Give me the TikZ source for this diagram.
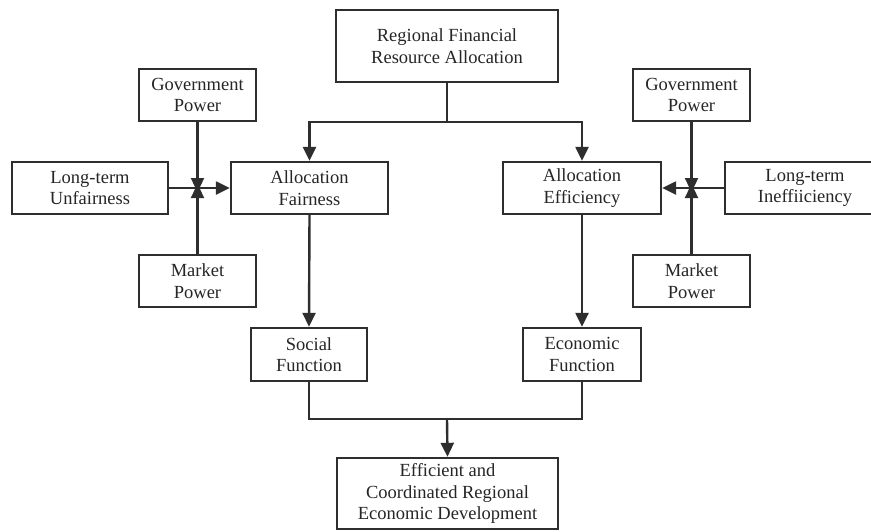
\documentclass[tikz,border=0pt]{standalone}
\usepackage{fontspec}
\setmainfont{Liberation Serif}
\usetikzlibrary{arrows.meta}
\begin{document}
\begin{tikzpicture}[x=1pt,y=-1pt,
  box/.style={draw=black!82, line width=2.4pt, fill=white, align=center, inner sep=0pt,
    font=\fontsize{18.5}{21.5}\selectfont, text=black!85},
  conn/.style={draw=black!82, line width=2.4pt},
  arr/.style={conn, -{Triangle[length=14pt,width=13pt]}}]
\useasboundingbox (0,0) rectangle (871,531);
\node[box, minimum width=222pt, minimum height=72pt] (top) at (447,46) {Regional Financial\\Resource Allocation};
\node[box, minimum width=117pt, minimum height=52pt] (gl) at (197.5,95) {Government\\Power};
\node[box, minimum width=156pt, minimum height=52pt] (ul) at (90,188) {Long-term\\Unfairness};
\node[box, minimum width=157pt, minimum height=52pt] (af) at (309.5,188) {Allocation\\Fairness};
\node[box, minimum width=117pt, minimum height=52pt] (ml) at (197.5,281) {Market\\Power};
\node[box, minimum width=158pt, minimum height=52pt] (ae) at (582,188) {Allocation\\Efficiency};
\node[box, minimum width=117pt, minimum height=52pt] (gr) at (691.5,95) {Government\\Power};
\node[box, minimum width=160pt, minimum height=52pt] (ur) at (805,188) {Long-term\\Ineffiiciency};
\node[box, minimum width=117pt, minimum height=52pt] (mr) at (691.5,281) {Market\\Power};
\node[box, minimum width=116pt, minimum height=53pt] (sf) at (309,354.5) {Social\\Function};
\node[box, minimum width=118pt, minimum height=53pt] (ef) at (582,354.5) {Economic\\Function};
\node[box, minimum width=221pt, minimum height=71pt] (bot) at (447.5,493.5) {Efficient and\\Coordinated Regional\\Economic Development};
\coordinate (jl) at (197.5,188);
\coordinate (jr) at (691.5,188);
\coordinate (tj) at (447,122);
\coordinate (bj) at (447,419);
% top split
\draw[conn] (top.south) -- (tj);
\draw[arr] (tj) -| (af.north);
\draw[arr] (tj) -| (ae.north);
% left cluster
\draw[arr] (ul.east) -- (af.west);
\draw[arr] (gl.south) -- ([yshift=-4pt]jl);
\draw[arr] (ml.north) -- ([yshift=4pt]jl);
% right cluster
\draw[arr] (ur.west) -- (ae.east);
\draw[arr] (gr.south) -- ([yshift=-4pt]jr);
\draw[arr] (mr.north) -- ([yshift=4pt]jr);
% down
\draw[arr] (af.south) -- (sf.north);
\draw[arr] (ae.south) -- (ef.north);
\draw[conn] (sf.south) |- (bj);
\draw[conn] (ef.south) |- (bj);
\draw[arr] (bj) -- (bot.north);
\end{tikzpicture}
\end{document}
